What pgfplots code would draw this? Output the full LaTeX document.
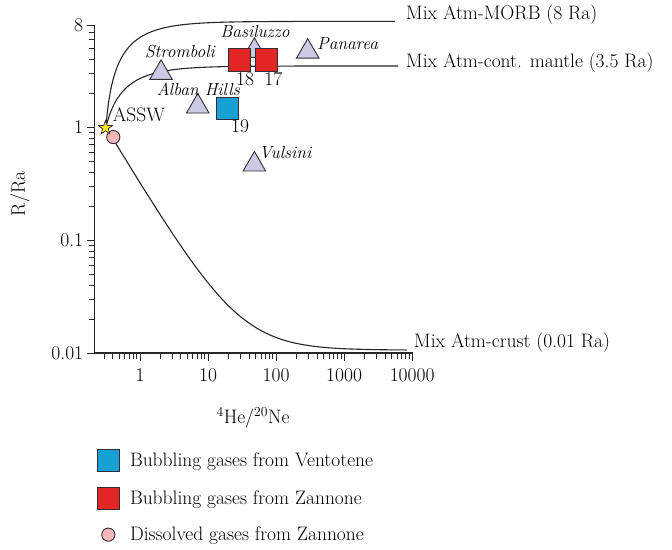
\documentclass[border=0pt]{standalone}
\usepackage{pgfplots}
\pgfplotsset{compat=1.18}
\definecolor{cblue}{RGB}{22,160,212}
\definecolor{cred}{RGB}{226,38,38}
\definecolor{clav}{RGB}{202,202,228}
\definecolor{cpink}{RGB}{245,184,184}
\definecolor{cstar}{RGB}{245,232,20}
\definecolor{cedge}{RGB}{50,45,50}
\newcommand\lbl{\fontsize{19.5bp}{23bp}\selectfont}
\newcommand\ilbl{\fontsize{17.5bp}{21bp}\selectfont\itshape}
\pgfdeclareplotmark{fstar}{%
  \pgfpathmoveto{\pgfpointpolar{90}{\pgfplotmarksize}}%
  \pgfpathlineto{\pgfpointpolar{126}{0.4\pgfplotmarksize}}%
  \pgfpathlineto{\pgfpointpolar{162}{\pgfplotmarksize}}%
  \pgfpathlineto{\pgfpointpolar{198}{0.4\pgfplotmarksize}}%
  \pgfpathlineto{\pgfpointpolar{234}{\pgfplotmarksize}}%
  \pgfpathlineto{\pgfpointpolar{270}{0.4\pgfplotmarksize}}%
  \pgfpathlineto{\pgfpointpolar{306}{\pgfplotmarksize}}%
  \pgfpathlineto{\pgfpointpolar{342}{0.4\pgfplotmarksize}}%
  \pgfpathlineto{\pgfpointpolar{18}{\pgfplotmarksize}}%
  \pgfpathlineto{\pgfpointpolar{54}{0.4\pgfplotmarksize}}%
  \pgfpathclose\pgfusepathqfillstroke}
\begin{document}
\begin{tikzpicture}[x=1bp,y=1bp]
\path[use as bounding box] (0,0) rectangle (672,550);
\begin{axis}[
  at={(94.7bp,197bp)}, anchor=south west,
  scale only axis, width=318.3bp, height=327.5bp,
  xmode=log, ymode=log,
  xmin=0.216, xmax=10300, ymin=0.01, ymax=8,
  axis x line=bottom, axis y line=left,
  axis line style={-, line width=1.1bp, color=black!85},
  clip=false,
  xtick={1,10,100,1000,10000},
  xticklabels={1,10,100,1000,10000},
  minor xtick={0.3,0.4,0.5,0.6,0.7,0.8,0.9,2,3,4,5,6,7,8,9,20,30,40,50,60,70,80,90,200,300,400,500,600,700,800,900,2000,3000,4000,5000,6000,7000,8000,9000},
  ytick={0.01,0.1,1,8},
  yticklabels={0.01,0.1,1,8},
  minor ytick={0.02,0.03,0.04,0.05,0.06,0.07,0.08,0.09,0.2,0.3,0.4,0.5,0.6,0.7,0.8,0.9,2,3,4,5,6,7},
  tick align=outside,
  major tick length=8bp, minor tick length=6bp,
  tick style={line width=0.9bp, color=black!85},
  ticklabel style={font=\lbl},
  xticklabel style={yshift=-4bp},
  legend style={at={(0.007,-0.2934)}, anchor=north west, draw=none, fill=none,
    font=\lbl, row sep=15.5bp, column sep=8.5bp, inner sep=0pt},
  legend cell align=left,
]
% mixing curves
\addplot[smooth, line width=1.1bp, color=black!85, forget plot] coordinates {
(0.316,1.0) (0.32,1.096) (0.33,1.327) (0.35,1.748) (0.38,2.297) (0.42,2.907) (0.47,3.523) (0.55,4.276) (0.65,4.956) (0.8,5.659) (1,6.267) (1.3,6.828) (1.7,7.269) (2.2,7.594) (3,7.889) (4,8.092) (5.5,8.258) (7.5,8.376) (10,8.457) (14,8.526) (20,8.578) (30,8.619) (50,8.651) (80,8.670) (130,8.681) (200,8.688) (350,8.693) (600,8.696) (1000,8.698) (2000,8.699) (5600,8.7)};
\addplot[smooth, line width=1.1bp, color=black!85, forget plot] coordinates {
(0.316,1.0) (0.32,1.031) (0.33,1.106) (0.35,1.243) (0.38,1.421) (0.42,1.619) (0.47,1.819) (0.55,2.064) (0.65,2.285) (0.8,2.513) (1,2.71) (1.3,2.892) (1.7,3.035) (2.2,3.141) (3,3.237) (4,3.303) (5.5,3.356) (7.5,3.395) (10,3.421) (14,3.444) (20,3.461) (30,3.474) (50,3.484) (80,3.490) (130,3.494) (200,3.496) (350,3.498) (600,3.499) (1000,3.499) (6200,3.5)};
\addplot[smooth, line width=1.1bp, color=black!85, forget plot] coordinates {
(0.316,1.0) (0.32,0.988) (0.33,0.958) (0.35,0.904) (0.38,0.833) (0.42,0.755) (0.47,0.676) (0.55,0.579) (0.65,0.492) (0.8,0.401) (1,0.323) (1.3,0.251) (1.7,0.1945) (2.2,0.1527) (3,0.1148) (4,0.0888) (5.5,0.0674) (7.5,0.0523) (10,0.0419) (14,0.0329) (20,0.0262) (30,0.0210) (50,0.01685) (80,0.01451) (130,0.0130) (200,0.01216) (350,0.01149) (600,0.01112) (1000,0.01091) (2000,0.01076) (4000,0.01068) (8300,0.01064)};
% volcanic references (triangles)
\addplot[only marks, mark=triangle*, mark size=13bp, mark options={fill=clav, draw=cedge, line width=0.9bp}, forget plot] coordinates {
(2.04,3.04) (7.06,1.53) (48,4.77) (292,4.69) (48,0.469)};
% samples
\addplot[only marks, mark=square*, mark size=11.2bp, mark options={fill=cblue, draw=cedge, line width=0.9bp}] coordinates {(19.2,1.48)};
\addlegendentry{Bubbling gases from Ventotene}
\addplot[only marks, mark=square*, mark size=11.2bp, mark options={fill=cred, draw=cedge, line width=0.9bp}] coordinates {(29.1,3.96) (71.8,3.96)};
\addlegendentry{Bubbling gases from Zannone}
\addplot[only marks, mark=*, mark size=6.6bp, mark options={fill=cpink, draw=cedge, line width=0.9bp}] coordinates {(0.405,0.82)};
\addlegendentry{Dissolved gases from Zannone}
\addplot[only marks, mark=fstar, mark size=7.4bp, mark options={fill=cstar, draw=cedge, line width=0.7bp}, forget plot] coordinates {(0.311,0.99)};
\end{axis}
% curve labels
\node[font=\lbl, anchor=west, inner sep=0pt] at (406,535) {Mix Atm-MORB (8 Ra)};
\node[font=\lbl, anchor=west, inner sep=0pt] at (406,487) {Mix Atm-cont. mantle (3.5 Ra)};
\node[font=\lbl, anchor=west, inner sep=0pt] at (414,207) {Mix Atm-crust (0.01 Ra)};
% point labels
\node[font=\ilbl, inner sep=0pt] at (180,498.3) {Stromboli};
\node[font=\ilbl, inner sep=0pt] at (198.3,460.7) {Alban Hills};
\node[font=\ilbl, inner sep=0pt] at (255,518.3) {Basiluzzo};
\node[font=\ilbl, anchor=west, inner sep=0pt] at (317,506.7) {Panarea};
\node[font=\ilbl, anchor=west, inner sep=0pt] at (259,397.3) {Vulsini};
\node[font=\lbl, anchor=west, inner sep=0pt] at (112.7,435) {ASSW};
\node[font=\lbl, inner sep=0pt] at (245,470.7) {18};
\node[font=\lbl, inner sep=0pt] at (273.3,470.7) {17};
\node[font=\lbl, inner sep=0pt] at (240,423.3) {19};
% axis labels
\node[font=\lbl, rotate=90, inner sep=0pt] at (20,356) {R/Ra};
\node[font=\lbl, inner sep=0pt] at (253,132) {\textsuperscript{4}He/\textsuperscript{20}Ne};
\end{tikzpicture}
\end{document}
